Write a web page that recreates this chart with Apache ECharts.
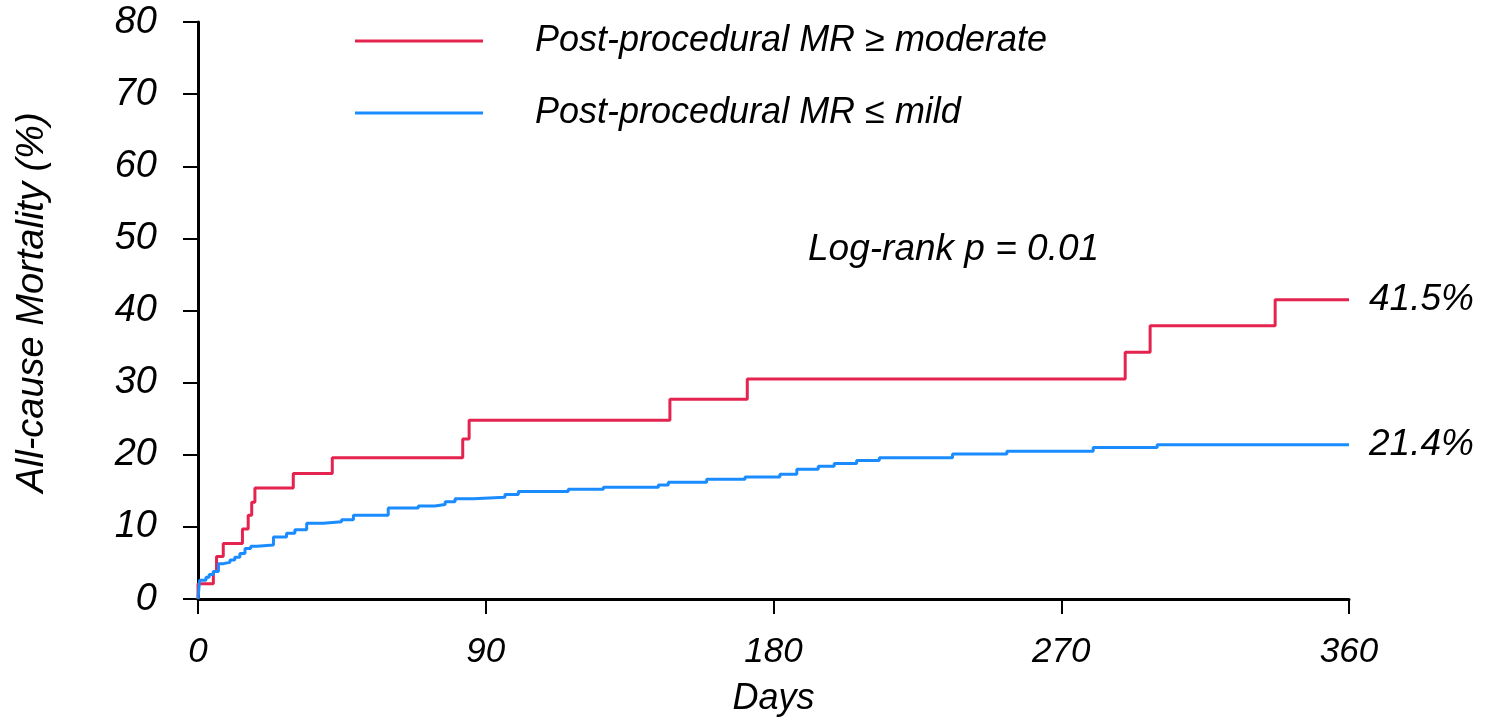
<!DOCTYPE html>
<html>
<head>
<meta charset="utf-8">
<title>All-cause Mortality</title>
<script src="https://cdn.jsdelivr.net/npm/echarts@6/dist/echarts.min.js"></script>
<style>
    html, body { margin: 0; padding: 0; background: #fff; }
    #main { width: 1488px; height: 721px; }
</style>
</head>
<body>
<div id="main"></div>
<script>
// days / mortality (%)
var xTicks = [0, 90, 180, 270, 360];
var yTicks = [0, 10, 20, 30, 40, 50, 60, 70, 80];
var seriesNames = ['Post-procedural MR \u2265 moderate', 'Post-procedural MR \u2264 mild'];
var modDays = [0, 0, 4.8, 5.8, 7.9, 13.9, 15.7, 16.8, 17.8, 29.8, 42, 82.8, 84.8, 147.6, 171.8, 290, 297.8, 336.9, 360];
var modPct = [0, 2.1, 3.8, 5.9, 7.7, 9.7, 11.6, 13.4, 15.4, 17.4, 19.6, 22.2, 24.8, 27.7, 30.5, 34.2, 37.9, 41.5, 41.5];
var mildDays = [0, 0.5, 2.5, 3.5, 4.8, 6.4, 8, 10, 11.5, 13.1, 14.7, 16.5, 18.4, 23.6, 27.7, 30.3, 34, 39.2, 44.9, 48.6, 59.5, 68.9, 74.1, 77.3, 80.4, 86.1, 96, 100.2, 115.8, 126.8, 144, 147.1, 159.1, 171.1, 182, 187.3, 194, 199, 206, 213.1, 236, 253, 280, 300, 360];
var mildPct = [0, 2.6, 3.0, 3.4, 3.8, 4.9, 5.1, 5.4, 5.8, 6.3, 7.0, 7.3, 7.5, 8.6, 9.1, 9.6, 10.5, 10.7, 11.0, 11.6, 12.6, 12.9, 13.1, 13.5, 13.9, 14.1, 14.5, 14.9, 15.2, 15.5, 15.8, 16.2, 16.6, 16.9, 17.3, 18.0, 18.4, 18.8, 19.2, 19.6, 20.1, 20.5, 21.0, 21.4, 21.4];
var pText = 'Log-rank p = 0.01';

var font = "'Liberation Sans', Arial, sans-serif";

function pairs(xs, ys) {
    var out = [];
    for (var i = 0; i < xs.length; i++) out.push([xs[i], ys[i]]);
    return out;
}

function kmSeries(name, color, data) {
    return {
        name: name,
        type: 'line',
        step: 'end',
        symbol: 'none',
        showSymbol: false,
        silent: true,
        animation: false,
        lineStyle: { color: color, width: 3 },
        itemStyle: { color: color },
        endLabel: {
            show: true,
            distance: 20,
            color: '#000',
            fontFamily: font,
            fontStyle: 'italic',
            fontSize: 37,
            formatter: function (p) { return p.value[1].toFixed(1) + '%'; }
        },
        data: data
    };
}

// one legend per row so each can be placed on its own
function legendRow(name, top) {
    return {
        left: 355,
        top: top,
        padding: 0,
        icon: 'rect',
        itemWidth: 128,
        itemHeight: 3,
        selectedMode: false,
        data: [name],
        textStyle: {
            color: '#000',
            fontFamily: font,
            fontStyle: 'italic',
            fontSize: 36,
            padding: [0, 0, 0, 47]
        }
    };
}

var chart = echarts.init(document.getElementById('main'));
chart.setOption({
    backgroundColor: '#fff',
    animation: false,
    grid: { left: 198, right: 139, top: 22, bottom: 122, containLabel: false, outerBoundsMode: 'none' },
    legend: [legendRow(seriesNames[0], 23), legendRow(seriesNames[1], 95)],
    xAxis: {
        type: 'value',
        min: xTicks[0],
        max: xTicks[xTicks.length - 1],
        interval: 90,
        name: 'Days',
        nameLocation: 'middle',
        nameGap: 82,
        nameTextStyle: { color: '#000', fontFamily: font, fontStyle: 'italic', fontSize: 36 },
        axisLine: { lineStyle: { color: '#000', width: 3 } },
        axisTick: { length: 15, lineStyle: { color: '#000', width: 2 } },
        axisLabel: { margin: 36, color: '#000', fontFamily: font, fontStyle: 'italic', fontSize: 35 },
        splitLine: { show: false }
    },
    yAxis: {
        type: 'value',
        min: yTicks[0],
        max: yTicks[yTicks.length - 1],
        interval: 10,
        name: 'All-cause Mortality (%)',
        nameLocation: 'middle',
        nameGap: 147,
        nameTextStyle: { color: '#000', fontFamily: font, fontStyle: 'italic', fontSize: 38, padding: [0, 0, 0, 16] },
        axisLine: { show: true, lineStyle: { color: '#000', width: 3 } },
        axisTick: { show: true, length: 15, lineStyle: { color: '#000', width: 2 } },
        axisLabel: { margin: 41, color: '#000', fontFamily: font, fontStyle: 'italic', fontSize: 38 },
        splitLine: { show: false }
    },
    graphic: [{
        type: 'text',
        left: 808,
        top: 231,
        style: { text: pText, fill: '#000', font: 'italic 37px ' + font }
    }],
    series: [
        kmSeries(seriesNames[0], '#E5234F', pairs(modDays, modPct)),
        kmSeries(seriesNames[1], '#1A8CFF', pairs(mildDays, mildPct))
    ]
});
</script>
</body>
</html>
